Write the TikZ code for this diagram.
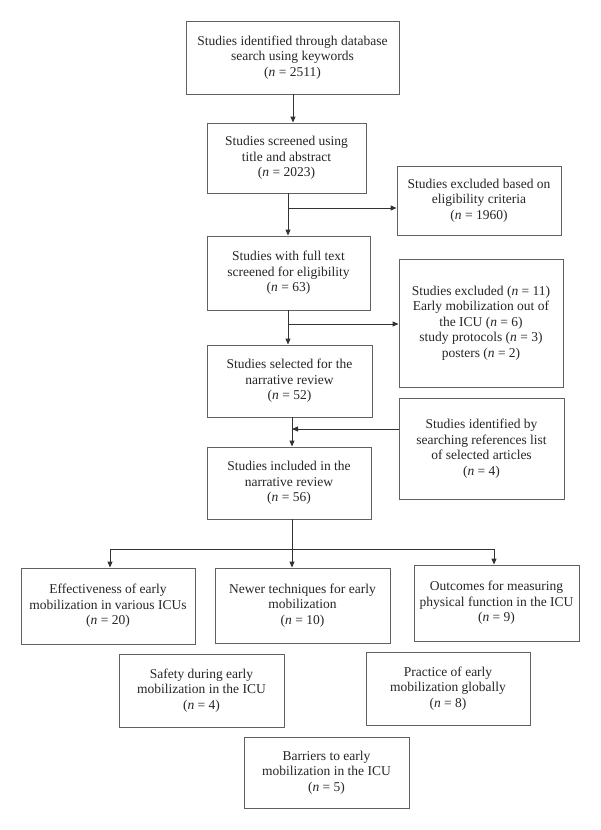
\documentclass[tikz,border=0pt]{standalone}
\usepackage{fontspec}
\setmainfont{Liberation Serif}
\usetikzlibrary{arrows.meta,calc}
\newcommand{\nn}[1]{(\textit{n} = #1)}
\begin{document}
\begin{tikzpicture}[x=1pt,y=-1pt,
  box/.style={draw=black!62, line width=0.9pt, inner sep=0pt, align=center,
    text=black!85, font=\fontsize{13.5}{15.6}\selectfont},
  conn/.style={draw=black!80, line width=0.9pt},
  arr/.style={conn, -{Triangle[length=6pt,width=5pt]}}]
\useasboundingbox[fill=white] (0,0) rectangle (600,830);
\node[box, minimum width=213pt, minimum height=73pt] (b1) at (292.5,57.5)
  {Studies identified through database\\search using keywords\\\nn{2511}};
\node[box, minimum width=159pt, minimum height=70pt] (b2) at (286.5,158)
  {Studies screened using\\title and abstract\\\nn{2023}};
\node[box, minimum width=164pt, minimum height=69pt] (e1) at (479,200.5)
  {Studies excluded based on\\eligibility criteria\\\nn{1960}};
\node[box, minimum width=163pt, minimum height=74pt] (b3) at (288.5,273)
  {Studies with full text\\screened for eligibility\\\nn{63}};
\node[box, minimum width=164pt, minimum height=128pt] (e2) at (481,323)
  {Studies excluded \nn{11}\\Early mobilization out of\\the ICU \nn{6}\\study protocols \nn{3}\\posters \nn{2}};
\node[box, minimum width=165pt, minimum height=72pt] (b4) at (289.5,381)
  {Studies selected for the\\narrative review\\\nn{52}};
\node[box, minimum width=165pt, minimum height=101pt] (s1) at (481.5,448.5)
  {Studies identified by\\searching references list\\of selected articles\\\nn{4}};
\node[box, minimum width=164pt, minimum height=72pt] (b5) at (289,483)
  {Studies included in the\\narrative review\\\nn{56}};
\node[box, minimum width=174pt, minimum height=76pt] (r1) at (108,606)
  {Effectiveness of early\\mobilization in various ICUs\\\nn{20}};
\node[box, minimum width=175pt, minimum height=75pt] (r2) at (302.5,605.5)
  {Newer techniques for early\\mobilization\\\nn{10}};
\node[box, minimum width=165pt, minimum height=76pt] (r3) at (496.5,603)
  {Outcomes for measuring\\physical function in the ICU\\\nn{9}};
\node[box, minimum width=165pt, minimum height=73pt] (r4) at (201.5,690.5)
  {Safety during early\\mobilization in the ICU\\\nn{4}};
\node[box, minimum width=164pt, minimum height=73pt] (r5) at (448,688.5)
  {Practice of early\\mobilization globally\\\nn{8}};
\node[box, minimum width=165pt, minimum height=71pt] (r6) at (326.5,772.5)
  {Barriers to early\\mobilization in the ICU\\\nn{5}};
% spine
\coordinate (j1) at (288,208);
\coordinate (j2) at (288,324);
\coordinate (j3) at (292,429);
\coordinate (j4) at (292,549);
\coordinate (jl) at (110,549);
\coordinate (jr) at (494,549);
\draw[arr] (b1.south -| 293,0) -- (b2.north -| 293,0);
\draw[arr] (b2.south -| j1) -- (b3.north -| j1);
\draw[arr] (j1) -- (e1.west |- j1);
\draw[arr] (b3.south -| j2) -- (b4.north -| j2);
\draw[arr] (j2) -- (e2.west |- j2);
\draw[arr] (b4.south -| j3) -- (b5.north -| j3);
\draw[arr] (s1.west |- j3) -- (j3);
\draw[arr] (b5.south -| j4) -- (r2.north -| j4);
\draw[conn] (jl) -- (jr);
\draw[arr] (jl) -- (r1.north -| jl);
\draw[arr] (jr) -- (r3.north -| jr);
\end{tikzpicture}
\end{document}
